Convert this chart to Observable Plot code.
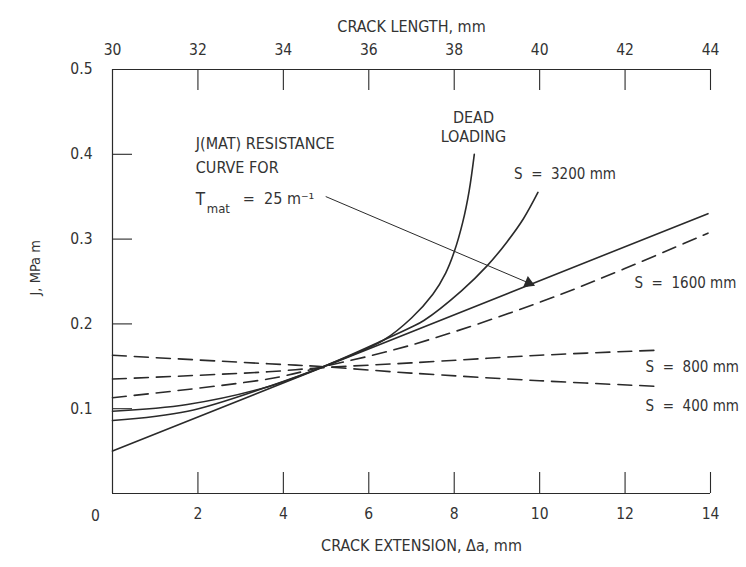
<!DOCTYPE html>
<html>
<head>
<meta charset="utf-8">
<script src="https://cdn.jsdelivr.net/npm/d3@7"></script>
<script src="https://cdn.jsdelivr.net/npm/@observablehq/plot@0.6"></script>
<style>
  html, body { margin: 0; padding: 0; background: #fff; }
  svg text { white-space: pre; }
</style>
</head>
<body>
<div id="chart"></div>
<script>
// ---- tick labels ----
const xTicks = [0, 2, 4, 6, 8, 10, 12, 14];             // crack extension, mm
const topTickLabels = [30, 32, 34, 36, 38, 40, 42, 44]; // crack length, mm
const yTicks = [0.1, 0.2, 0.3, 0.4, 0.5];               // J, MPa m
const crackLength0 = 30;

// ---- series (crack extension Δa in mm, J in MPa m) ----
const resistanceA = [0, 13.94];
const resistanceJ = [0.05, 0.33];

const deadA = [0, 1.76, 3.64, 5.0, 6.35, 7.0, 7.5, 7.8, 8.0, 8.2, 8.35, 8.47];
const deadJ = [0.086, 0.097, 0.126, 0.151, 0.181, 0.207, 0.235, 0.260, 0.285, 0.320, 0.357, 0.400];

const s3200A = [0, 1.75, 3.64, 5.0, 6.35, 6.99, 7.29, 8.17, 8.78, 9.24, 9.62, 9.96];
const s3200J = [0.097, 0.105, 0.126, 0.151, 0.181, 0.196, 0.204, 0.239, 0.269, 0.297, 0.324, 0.355];

const s1600A = [0, 3.64, 4.8, 6.99, 10.03, 11.98, 13.94];
const s1600J = [0.113, 0.135, 0.148, 0.175, 0.226, 0.265, 0.307];

const s800A = [0, 3.64, 4.8, 6.99, 10.0, 12.77];
const s800J = [0.135, 0.1435, 0.148, 0.154, 0.163, 0.169];

const s400A = [0, 3.64, 4.8, 6.99, 10.0, 12.68];
const s400J = [0.163, 0.153, 0.150, 0.142, 0.133, 0.1265];

// ---- annotation anchors (data coordinates) ----
const labelTexts = ["S  =  3200 mm", "S  =  1600 mm", "S  =  800 mm", "S  =  400 mm"];
const labelA = [9.4, 12.22, 12.48, 12.48];
const labelJ = [0.376, 0.248, 0.149, 0.103];

const leader = {x1: 5.0, y1: 0.350, x2: 9.85, y2: 0.246};

const toRows = (A, J) => A.map((a, i) => ({a, j: J[i]}));
const solidSeries = [toRows(resistanceA, resistanceJ), toRows(deadA, deadJ), toRows(s3200A, s3200J)];
const dashedSeries = [toRows(s1600A, s1600J), toRows(s800A, s800J), toRows(s400A, s400J)];
const labels = labelTexts.map((t, i) => ({t, a: labelA[i], j: labelJ[i]}));

const W = 746, H = 567, mL = 112, mR = 36, mT = 69, mB = 74;
const pxPerA = (W - mL - mR) / 14;
const pxPerJ = (H - mT - mB) / 0.5;

// filled arrow head, oriented along the leader in screen space
const ang = Math.atan2((leader.y1 - leader.y2) * pxPerJ, (leader.x2 - leader.x1) * pxPerA);
const back = 5; // px back from tip
const head = [{
  x: leader.x2 - back * Math.cos(ang) / pxPerA,
  y: leader.y2 + back * Math.sin(ang) / pxPerJ
}];
const headRotate = 90 + ang * 180 / Math.PI;

const ink = "#2a2a2a";
const textInk = "#333";
const font = "'DejaVu Sans Condensed', 'Liberation Sans Narrow', 'Liberation Sans', sans-serif";
const tickLenX = 20 / pxPerA;
const tickLenY = 21 / pxPerJ;

const marks = [
  // frame: left, bottom, top
  Plot.ruleX([0], {y1: 0, y2: 0.5, stroke: ink, strokeWidth: 1.2}),
  Plot.ruleY([0], {x1: 0, x2: 14, stroke: ink, strokeWidth: 1.2}),
  Plot.ruleY([0.5], {x1: 0, x2: 14, stroke: ink, strokeWidth: 1.2}),
  // inward ticks
  Plot.ruleX(xTicks.slice(1), {x: d => d, y1: 0, y2: tickLenY, stroke: ink, strokeWidth: 1.1}),
  Plot.ruleX(topTickLabels.slice(1), {x: d => d - crackLength0, y1: 0.5, y2: 0.5 - tickLenY, stroke: ink, strokeWidth: 1.1}),
  Plot.ruleY(yTicks.slice(0, 4), {y: d => d, x1: 0, x2: tickLenX, stroke: ink, strokeWidth: 1.1}),
  // tick labels
  Plot.text(xTicks.slice(1), {x: d => d, y: 0, dy: 21, text: d => String(d), fill: textInk, fontSize: 15.5}),
  Plot.text([0], {x: 0, y: 0, dx: -17, dy: 23, text: d => String(d), fill: textInk, fontSize: 15.5}),
  Plot.text(topTickLabels, {x: d => d - crackLength0, y: 0.5, dy: -19, text: d => String(d), fill: textInk, fontSize: 15.5}),
  Plot.text(yTicks, {x: 0, y: d => d, dx: -20, textAnchor: "end", text: d => d.toFixed(1), fill: textInk, fontSize: 15.5}),
  // axis titles
  Plot.text(["CRACK LENGTH, mm"], {frameAnchor: "top", dy: -49, text: d => d, fill: textInk, fontSize: 16, letterSpacing: 1}),
  Plot.text(["CRACK EXTENSION, \u0394a, mm"], {frameAnchor: "bottom", dy: 57, text: d => d, fill: textInk, fontSize: 16, letterSpacing: 0.7, dx: 10}),
  Plot.text(["J, MPa m"], {frameAnchor: "left", dx: -77, dy: 14, rotate: -90, text: d => d, fill: textInk, fontSize: 14.5}),
  // curves
  ...solidSeries.map(s => Plot.line(s, {x: "a", y: "j", stroke: ink, strokeWidth: 1.6, curve: "catmull-rom"})),
  ...dashedSeries.map(s => Plot.line(s, {x: "a", y: "j", stroke: ink, strokeWidth: 1.6, curve: "catmull-rom", strokeDasharray: "14,8"})),
  // leader arrow
  Plot.arrow([leader], {x1: "x1", y1: "y1", x2: "x2", y2: "y2", stroke: ink, strokeWidth: 1, headLength: 0}),
  Plot.dot(head, {x: "x", y: "y", symbol: "triangle", r: 4.5, fill: ink, stroke: "none", rotate: headRotate}),
  // annotations
  Plot.text(["J(MAT) RESISTANCE", "CURVE FOR"], {x: 1.95, y: (d, i) => [0.412, 0.384][i], textAnchor: "start", text: d => d, fill: textInk, fontSize: 16, letterSpacing: 2}),
  Plot.text(["T"], {x: 1.95, y: 0.347, textAnchor: "start", text: d => d, fill: textInk, fontSize: 17}),
  Plot.text(["mat"], {x: 1.95, y: 0.347, dx: 11, dy: 10, textAnchor: "start", text: d => d, fill: textInk, fontSize: 13, letterSpacing: 0.5}),
  Plot.text(["=  25 m\u207B\u00B9"], {x: 1.95, y: 0.347, dx: 47, textAnchor: "start", text: d => d, fill: textInk, fontSize: 16}),
  Plot.text(["DEAD", "LOADING"], {x: 8.45, y: (d, i) => [0.443, 0.420][i], text: d => d, fill: textInk, fontSize: 16, letterSpacing: 1.5}),
  Plot.text(labels, {x: "a", y: "j", text: "t", textAnchor: "start", fill: textInk, fontSize: 15})
];

const chart = Plot.plot({
  width: W,
  height: H,
  marginLeft: mL,
  marginRight: mR,
  marginTop: mT,
  marginBottom: mB,
  x: {domain: [0, 14], axis: null},
  y: {domain: [0, 0.5], axis: null},
  style: {fontFamily: font, background: "#fff", overflow: "visible"},
  marks
});
document.getElementById("chart").appendChild(chart);
</script>
</body>
</html>
